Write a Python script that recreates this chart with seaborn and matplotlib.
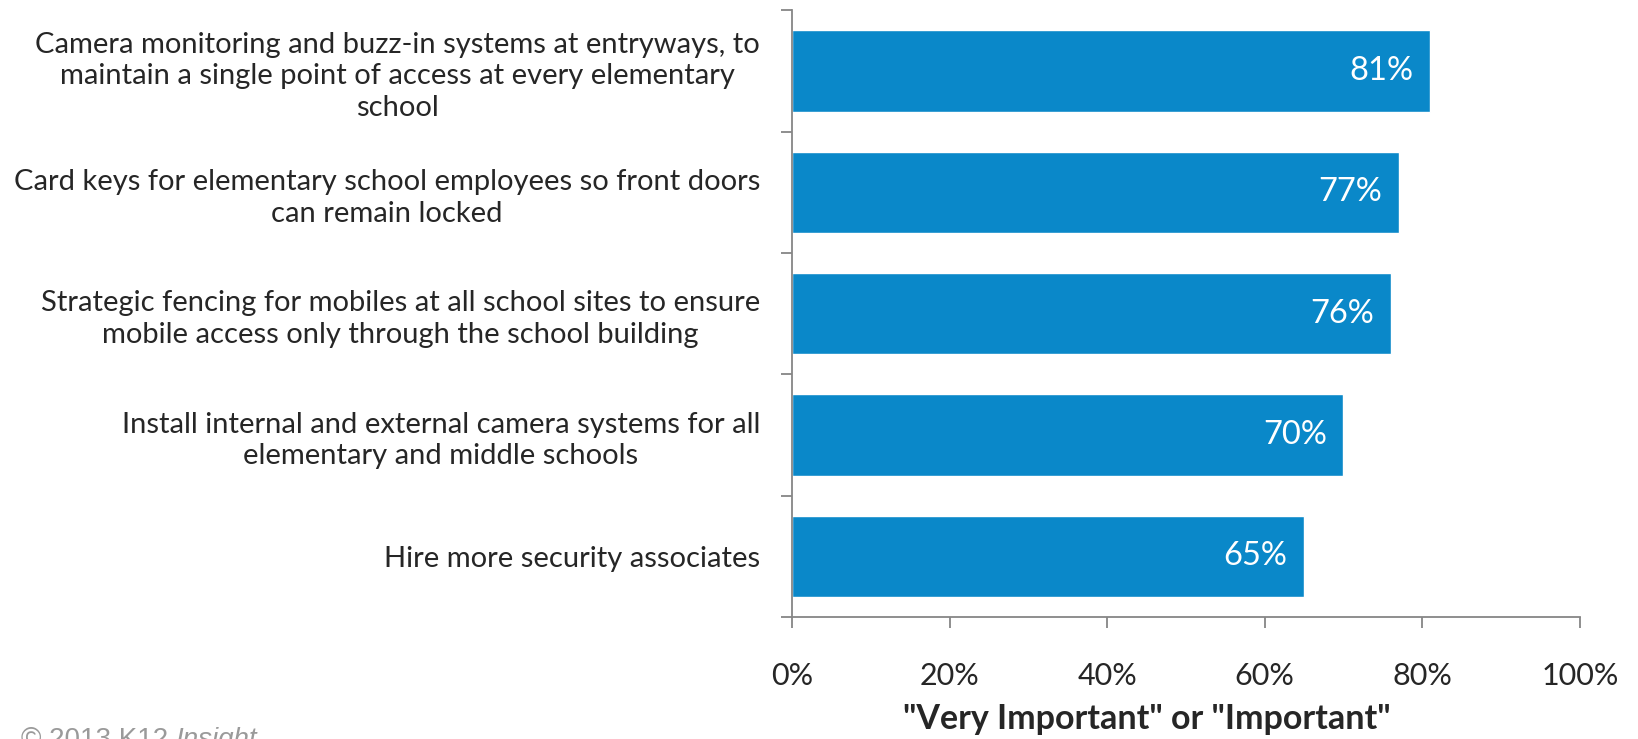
import numpy as np
import matplotlib
matplotlib.use("Agg")
import matplotlib.pyplot as plt
import seaborn as sns

# survey data
categories = [
    "Camera monitoring and buzz-in systems at entryways, to\nmaintain a single point of access at every elementary\nschool",
    "Card keys for elementary school employees so front doors\ncan remain locked",
    "Strategic fencing for mobiles at all school sites to ensure\nmobile access only through the school building",
    "Install internal and external camera systems for all\nelementary and middle schools",
    "Hire more security associates",
]
values = [81, 77, 76, 70, 65]
x_ticks = [0, 20, 40, 60, 80, 100]
x_ticklabels = [f"{t}%" for t in x_ticks]
x_label = '"Very Important" or "Important"'
footer = "© 2013 K12 "
footer_italic = "Insight"

bar_color = "#0A88C9"
axis_color = "#868686"

sns.set_style("white")
plt.rcParams['font.family'] = ['Lato', 'DejaVu Sans']

fig = plt.figure(figsize=(16.38, 7.39), dpi=100)
ax = fig.add_axes([0.4835, 0.165, 0.481, 0.821])

sns.barplot(x=values, y=categories, orient="h", color=bar_color,
            saturation=1, width=0.67, ax=ax)

ax.set_xlim(0, 100)
ax.set_ylim(len(categories) - 0.5, -0.5)

# value labels inside the bar ends
for i, v in enumerate(values):
    ax.annotate(f"{v}%", xy=(v, i), xytext=(-12, 0), textcoords="offset points",
                ha="right", va="center", color="white", fontsize=23.5)

# axes styling
for side in ["top", "right"]:
    ax.spines[side].set_visible(False)
for side in ["left", "bottom"]:
    ax.spines[side].set_color(axis_color)
    ax.spines[side].set_linewidth(1.3)

ax.set_xticks(x_ticks)
ax.set_xticklabels(x_ticklabels, fontsize=22)
ax.tick_params(axis="x", direction="out", length=8, width=1.3, color=axis_color,
               pad=24, bottom=True)

# category labels at the centres, tick marks at the boundaries
ax.set_yticks(np.arange(len(categories)))
ax.set_yticklabels(categories, fontsize=21, ha="right", multialignment="center",
                   linespacing=1.27)
ax.tick_params(axis="y", which="major", length=0, pad=23)
ax.set_yticks(np.arange(len(categories) + 1) - 0.5, minor=True)
ax.tick_params(axis="y", which="minor", direction="out", length=8, width=1.3,
               color=axis_color, left=True)

ax.set_ylabel("")
ax.set_xlabel(x_label, fontsize=24.5, fontweight="bold")
ax.xaxis.set_label_coords(0.451, -0.142)

# footer (partly cut at the bottom edge, as in the original)
t = fig.text(0.013, 0.016, footer, fontsize=20, color="#9a9a9a", va="top",
             family="Liberation Sans")
fig.canvas.draw()
bb = t.get_window_extent()
fig.text(bb.x1 / fig.bbox.width, 0.016, footer_italic, fontsize=20, color="#9a9a9a",
         va="top", family="Liberation Sans", style="italic")

fig.savefig("out.png", dpi=100)
